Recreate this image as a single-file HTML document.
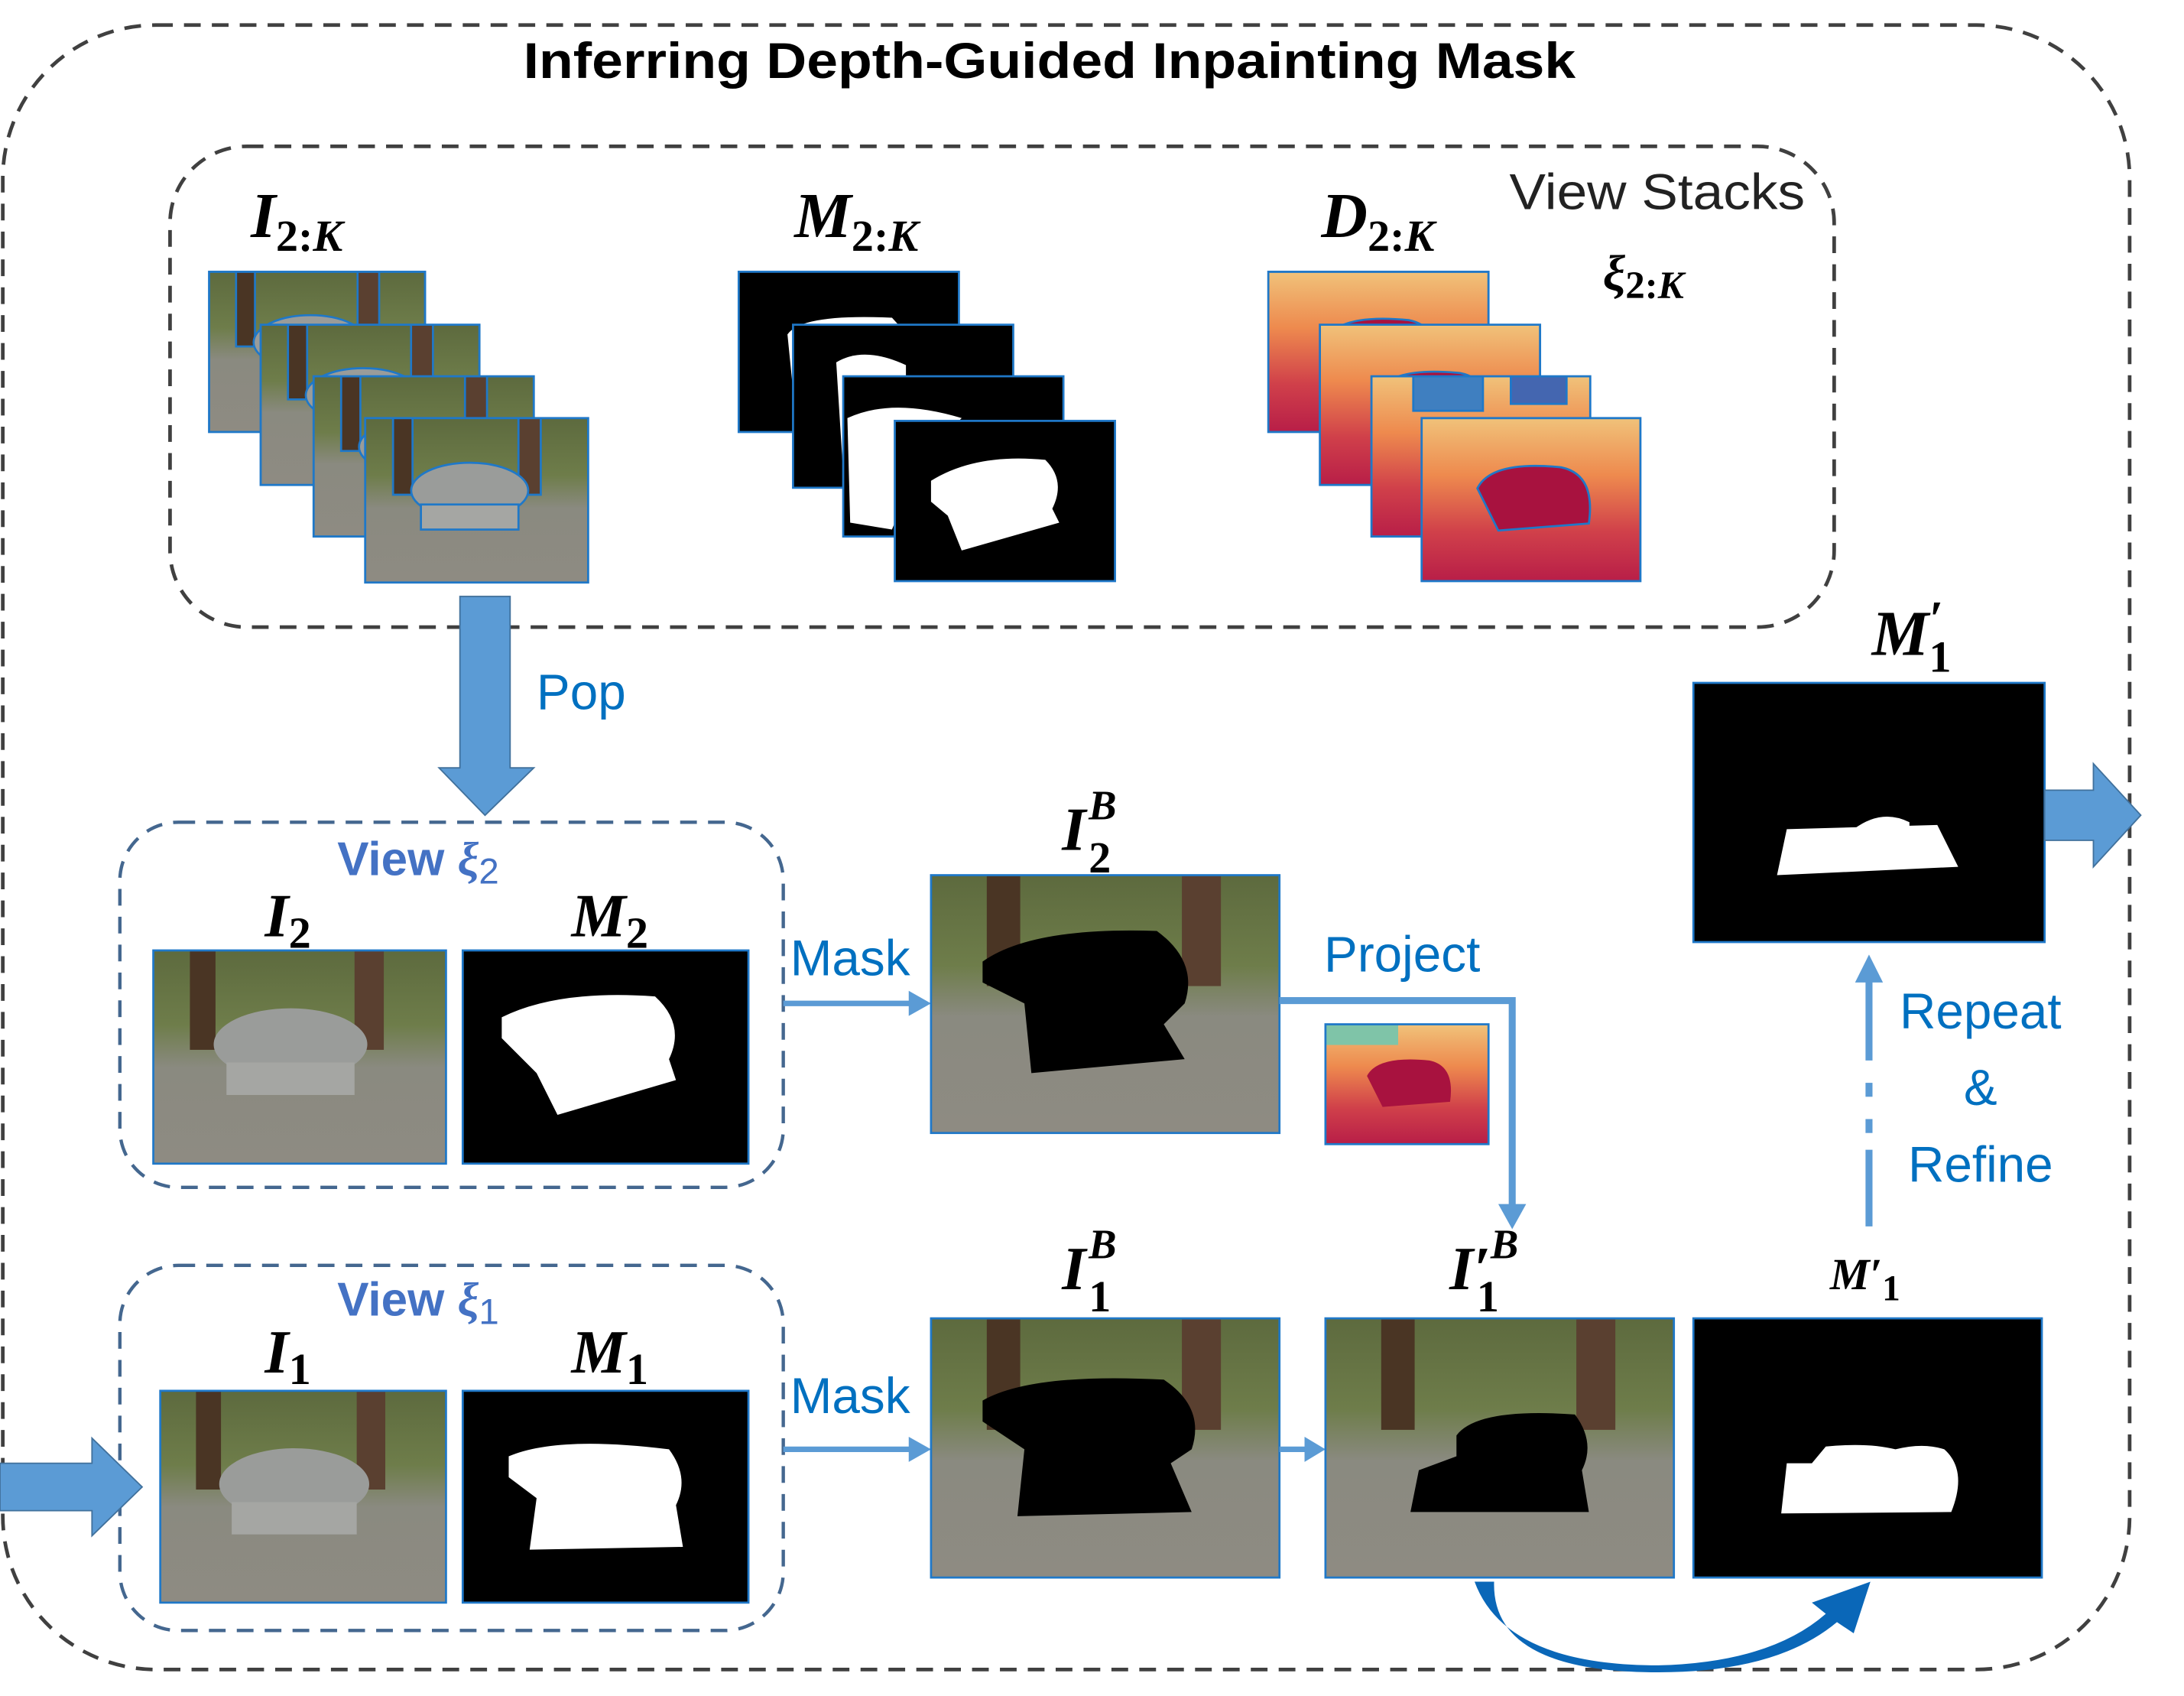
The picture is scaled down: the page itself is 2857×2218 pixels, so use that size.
<!DOCTYPE html>
<html><head><meta charset="utf-8"><style>
html,body{margin:0;padding:0;background:#fff;}
svg{display:block;}
.m{font-family:"Liberation Serif",serif;font-weight:bold;font-style:italic;fill:#000;}
.u{font-style:normal;}
.s{font-family:"Liberation Sans",sans-serif;}
</style></head><body>
<svg width="2857" height="2218" viewBox="0 0 1567 1217" preserveAspectRatio="none" xmlns="http://www.w3.org/2000/svg">
<defs>
<linearGradient id="ph" x1="0" y1="0" x2="0" y2="1">
<stop offset="0" stop-color="#5d6a3e"/><stop offset="0.35" stop-color="#6e7d4a"/><stop offset="0.55" stop-color="#8a8a80"/><stop offset="1" stop-color="#8e8b82"/></linearGradient>
<linearGradient id="dp" x1="0" y1="0" x2="0" y2="1">
<stop offset="0" stop-color="#f0c27a"/><stop offset="0.35" stop-color="#ee8a4e"/><stop offset="0.7" stop-color="#d0404a"/><stop offset="1" stop-color="#b81e48"/></linearGradient>
<g id="photo"><rect width="160" height="118" fill="url(#ph)"/><rect x="20" y="0" width="14" height="55" fill="#4a3524"/><rect x="110" y="0" width="16" height="55" fill="#5a4030"/><ellipse cx="75" cy="52" rx="42" ry="20" fill="#9a9c9a"/><rect x="40" y="62" width="70" height="18" fill="#a5a6a3"/></g>
<g id="photoB"><rect width="250" height="186" fill="url(#ph)"/><rect x="40" y="0" width="24" height="80" fill="#4a3524"/><rect x="180" y="0" width="28" height="80" fill="#5a4030"/></g>
<g id="depth"><rect width="157" height="116" fill="url(#dp)"/><path d="M40 50 Q50 30 100 35 Q125 40 120 75 L55 80 L45 60 Z" fill="#a8123f"/></g>
</defs>

<rect x="2" y="18" width="1526" height="1180" rx="110" fill="none" stroke="#404040" stroke-width="2.6" stroke-dasharray="12,8"/>
<text x="753" y="56" text-anchor="middle" class="s" font-weight="bold" font-size="36" textLength="755" lengthAdjust="spacingAndGlyphs">Inferring Depth-Guided Inpainting Mask</text>

<rect x="122" y="105" width="1194" height="345" rx="55" fill="none" stroke="#404040" stroke-width="2.6" stroke-dasharray="12,8"/>
<text x="180" y="170" class="m" font-size="46">I<tspan font-size="32" dy="10"><tspan class="u">2:</tspan>K</tspan></text>
<text x="570" y="170" class="m" font-size="46">M<tspan font-size="32" dy="10"><tspan class="u">2:</tspan>K</tspan></text>
<text x="948" y="170" class="m" font-size="46">D<tspan font-size="32" dy="10"><tspan class="u">2:</tspan>K</tspan></text>
<text x="1083" y="150" class="s" font-size="36" fill="#222" textLength="212" lengthAdjust="spacingAndGlyphs">View Stacks</text>
<text x="1150" y="208" class="m" font-size="36">ξ<tspan font-size="28" dy="6"><tspan class="u">2:</tspan>K</tspan></text>

<g stroke="#1f78c8" stroke-width="1.5">
<svg x="150" y="195" width="155" height="115" viewBox="0 0 160 118" preserveAspectRatio="none"><use href="#photo"/></svg>
<rect x="150" y="195" width="155" height="115" fill="none"/>
<svg x="187" y="233" width="157" height="115" viewBox="0 0 160 118" preserveAspectRatio="none"><use href="#photo"/></svg>
<rect x="187" y="233" width="157" height="115" fill="none"/>
<svg x="225" y="270" width="158" height="115" viewBox="0 0 160 118" preserveAspectRatio="none"><use href="#photo"/></svg>
<rect x="225" y="270" width="158" height="115" fill="none"/>
<svg x="262" y="300" width="160" height="118" viewBox="0 0 160 118" preserveAspectRatio="none"><use href="#photo"/></svg>
<rect x="262" y="300" width="160" height="118" fill="none"/>
</g>

<g stroke="#1f78c8" stroke-width="1.5">
<rect x="530" y="195" width="158" height="115" fill="#000"/>
<path d="M565 240 Q575 225 640 228 L660 250 L600 300 L570 290 Z" fill="#fff" stroke="none"/>
<rect x="569" y="233" width="158" height="117" fill="#000"/>
<path d="M600 260 Q620 248 650 262 L650 300 L605 340 Z" fill="#fff" stroke="none"/>
<rect x="605" y="270" width="158" height="115" fill="#000"/>
<path d="M608 300 Q640 285 690 300 L660 330 L640 380 L610 375 Z" fill="#fff" stroke="none"/>
<rect x="642" y="302" width="158" height="115" fill="#000"/>
<path d="M668 345 Q700 325 750 330 Q765 345 755 365 L760 375 L690 395 L680 370 L668 360 Z" fill="#fff" stroke="none"/>
</g>

<g stroke="#1f78c8" stroke-width="1.5">
<svg x="910" y="195" width="158" height="115" viewBox="0 0 157 116" preserveAspectRatio="none"><use href="#depth"/></svg>
<rect x="910" y="195" width="158" height="115" fill="none"/>
<svg x="947" y="233" width="158" height="115" viewBox="0 0 157 116" preserveAspectRatio="none"><use href="#depth"/></svg>
<rect x="947" y="233" width="158" height="115" fill="none"/>
<svg x="984" y="270" width="157" height="115" viewBox="0 0 157 116" preserveAspectRatio="none"><use href="#depth"/><rect x="30" y="0" width="50" height="25" fill="#3f7fc0"/><rect x="100" y="0" width="40" height="20" fill="#4466b0"/></svg>
<rect x="984" y="270" width="157" height="115" fill="none"/>
<svg x="1020" y="300" width="157" height="117" viewBox="0 0 157 116" preserveAspectRatio="none"><use href="#depth"/></svg>
<rect x="1020" y="300" width="157" height="117" fill="none"/>
</g>

<polygon points="330,428 366,428 366,551 383,551 348,585 315,551 330,551" fill="#5b9bd5" stroke="#41719c" stroke-width="1"/>
<text x="385" y="509" class="s" font-size="36" fill="#0070c0">Pop</text>

<rect x="86" y="590" width="476" height="262" rx="42" fill="none" stroke="#44678f" stroke-width="2.4" stroke-dasharray="12,8"/>
<rect x="238" y="595" width="155" height="44" fill="#fff"/>
<text x="242" y="628" class="s" font-size="34" font-weight="bold" fill="#4472c4">View <tspan font-family="Liberation Serif" font-style="italic">ξ</tspan><tspan font-size="26" dy="6" font-weight="normal">2</tspan></text>
<text x="190" y="672" class="m" font-size="44">I<tspan font-size="32" dy="8" class="u">2</tspan></text>
<text x="410" y="672" class="m" font-size="44">M<tspan font-size="32" dy="8" class="u">2</tspan></text>
<svg x="110" y="682" width="210" height="153" viewBox="0 0 160 118" preserveAspectRatio="none"><use href="#photo"/></svg>
<rect x="110" y="682" width="210" height="153" fill="none" stroke="#1f78c8" stroke-width="1.5"/>
<rect x="332" y="682" width="205" height="153" fill="#000" stroke="#1f78c8" stroke-width="1.5"/>
<path d="M360 730 Q400 710 470 715 Q492 735 480 760 L485 775 L400 800 L385 770 L360 745 Z" fill="#fff"/>

<rect x="86" y="908" width="476" height="262" rx="42" fill="none" stroke="#44678f" stroke-width="2.4" stroke-dasharray="12,8"/>
<rect x="238" y="912" width="155" height="44" fill="#fff"/>
<text x="242" y="944" class="s" font-size="34" font-weight="bold" fill="#4472c4">View <tspan font-family="Liberation Serif" font-style="italic">ξ</tspan><tspan font-size="26" dy="6" font-weight="normal">1</tspan></text>
<text x="190" y="985" class="m" font-size="44">I<tspan font-size="32" dy="8" class="u">1</tspan></text>
<text x="410" y="985" class="m" font-size="44">M<tspan font-size="32" dy="8" class="u">1</tspan></text>
<svg x="115" y="998" width="205" height="152" viewBox="0 0 160 118" preserveAspectRatio="none"><use href="#photo"/></svg>
<rect x="115" y="998" width="205" height="152" fill="none" stroke="#1f78c8" stroke-width="1.5"/>
<rect x="332" y="998" width="205" height="152" fill="#000" stroke="#1f78c8" stroke-width="1.5"/>
<path d="M365 1045 Q400 1030 480 1040 Q495 1060 485 1080 L490 1110 L380 1112 L385 1075 L365 1060 Z" fill="#fff"/>

<polygon points="0,1050 66,1050 66,1032 102,1067 66,1102 66,1084 0,1084" fill="#5b9bd5" stroke="#41719c" stroke-width="1"/>

<line x1="562" y1="720" x2="655" y2="720" stroke="#5b9bd5" stroke-width="4"/>
<polygon points="652,711 668,720 652,729" fill="#5b9bd5"/>
<text x="567" y="700" class="s" font-size="36" fill="#0070c0">Mask</text>
<line x1="562" y1="1040" x2="655" y2="1040" stroke="#5b9bd5" stroke-width="4"/>
<polygon points="652,1031 668,1040 652,1049" fill="#5b9bd5"/>
<text x="567" y="1014" class="s" font-size="36" fill="#0070c0">Mask</text>

<text x="762" y="610" class="m" font-size="44">I<tspan font-size="30" dx="2" dy="-22">B</tspan><tspan font-size="32" dx="-20" dy="38" class="u">2</tspan></text>
<svg x="668" y="628" width="250" height="185" viewBox="0 0 250 186" preserveAspectRatio="none"><use href="#photoB"/></svg>
<path d="M705 690 Q740 665 830 668 Q860 690 850 720 L835 735 L850 760 L740 770 L735 720 L705 705 Z" fill="#000"/>
<rect x="668" y="628" width="250" height="185" fill="none" stroke="#1f78c8" stroke-width="1.5"/>

<polyline points="918,718 1085,718 1085,868" fill="none" stroke="#5b9bd5" stroke-width="5"/>
<polygon points="1075,864 1095,864 1085,882" fill="#5b9bd5"/>
<text x="950" y="697" class="s" font-size="36" fill="#0070c0">Project</text>
<svg x="951" y="735" width="117" height="86" viewBox="0 0 157 116" preserveAspectRatio="none"><use href="#depth"/><rect x="0" y="0" width="70" height="20" fill="#7fc4a8"/></svg>
<rect x="951" y="735" width="117" height="86" fill="none" stroke="#1f78c8" stroke-width="1.5"/>

<text x="762" y="925" class="m" font-size="44">I<tspan font-size="30" dx="2" dy="-22">B</tspan><tspan font-size="32" dx="-20" dy="38" class="u">1</tspan></text>
<svg x="668" y="946" width="250" height="186" viewBox="0 0 250 186" preserveAspectRatio="none"><use href="#photoB"/></svg>
<path d="M705 1005 Q740 985 835 990 Q865 1010 855 1040 L840 1050 L855 1085 L730 1088 L735 1040 L705 1020 Z" fill="#000"/>
<rect x="668" y="946" width="250" height="186" fill="none" stroke="#1f78c8" stroke-width="1.5"/>

<line x1="918" y1="1040" x2="940" y2="1040" stroke="#5b9bd5" stroke-width="4"/>
<polygon points="936,1031 951,1040 936,1049" fill="#5b9bd5"/>

<text x="1040" y="925" class="m" font-size="44">I′<tspan font-size="30" dy="-22">B</tspan><tspan font-size="32" dx="-30" dy="38" class="u">1</tspan></text>
<svg x="951" y="946" width="250" height="186" viewBox="0 0 250 186" preserveAspectRatio="none"><use href="#photoB"/></svg>
<path d="M1045 1030 Q1060 1010 1130 1015 Q1145 1035 1135 1055 L1140 1085 L1012 1085 L1018 1055 L1045 1045 Z" fill="#000"/>
<rect x="951" y="946" width="250" height="186" fill="none" stroke="#1f78c8" stroke-width="1.5"/>

<text x="1313" y="925" class="m" font-size="32">M′<tspan font-size="26" dy="8" class="u">1</tspan></text>
<rect x="1215" y="946" width="250" height="186" fill="#000" stroke="#1f78c8" stroke-width="1.5"/>
<path d="M1310 1038 Q1340 1035 1360 1040 Q1380 1035 1395 1040 Q1412 1055 1400 1085 L1278 1086 L1282 1050 L1300 1050 Z" fill="#fff"/>

<text x="1343" y="470" class="m" font-size="46">M<tspan font-size="36" dy="-14">′</tspan><tspan font-size="32" dx="-10" dy="26" class="u">1</tspan></text>
<rect x="1215" y="490" width="252" height="186" fill="#000" stroke="#1f78c8" stroke-width="1.5"/>
<path d="M1282 595 L1390 592 L1405 622 L1275 628 Z" fill="#fff"/>
<path d="M1330 595 Q1350 580 1370 590 L1370 600 L1330 602 Z" fill="#fff"/>

<polygon points="1467,567 1502,567 1502,548 1536,585 1502,622 1502,603 1467,603" fill="#5b9bd5" stroke="#41719c" stroke-width="1"/>

<line x1="1341" y1="880" x2="1341" y2="825" stroke="#5b9bd5" stroke-width="5"/>
<line x1="1341" y1="813" x2="1341" y2="803" stroke="#5b9bd5" stroke-width="5"/>
<line x1="1341" y1="787" x2="1341" y2="777" stroke="#5b9bd5" stroke-width="5"/>
<line x1="1341" y1="761" x2="1341" y2="700" stroke="#5b9bd5" stroke-width="5"/>
<polygon points="1331,705 1351,705 1341,685" fill="#5b9bd5"/>
<text x="1421" y="738" text-anchor="middle" class="s" font-size="36" fill="#0070c0">Repeat</text>
<text x="1421" y="793" text-anchor="middle" class="s" font-size="36" fill="#0070c0">&amp;</text>
<text x="1421" y="848" text-anchor="middle" class="s" font-size="36" fill="#0070c0">Refine</text>

<path d="M1058 1135 Q1080 1195 1190 1195 Q1270 1193 1310 1158 L1300 1150 L1342 1135 L1330 1172 L1318 1164 Q1275 1200 1190 1200 Q1070 1200 1072 1135 Z" fill="#0a67b8"/>
</svg>
</body></html>
